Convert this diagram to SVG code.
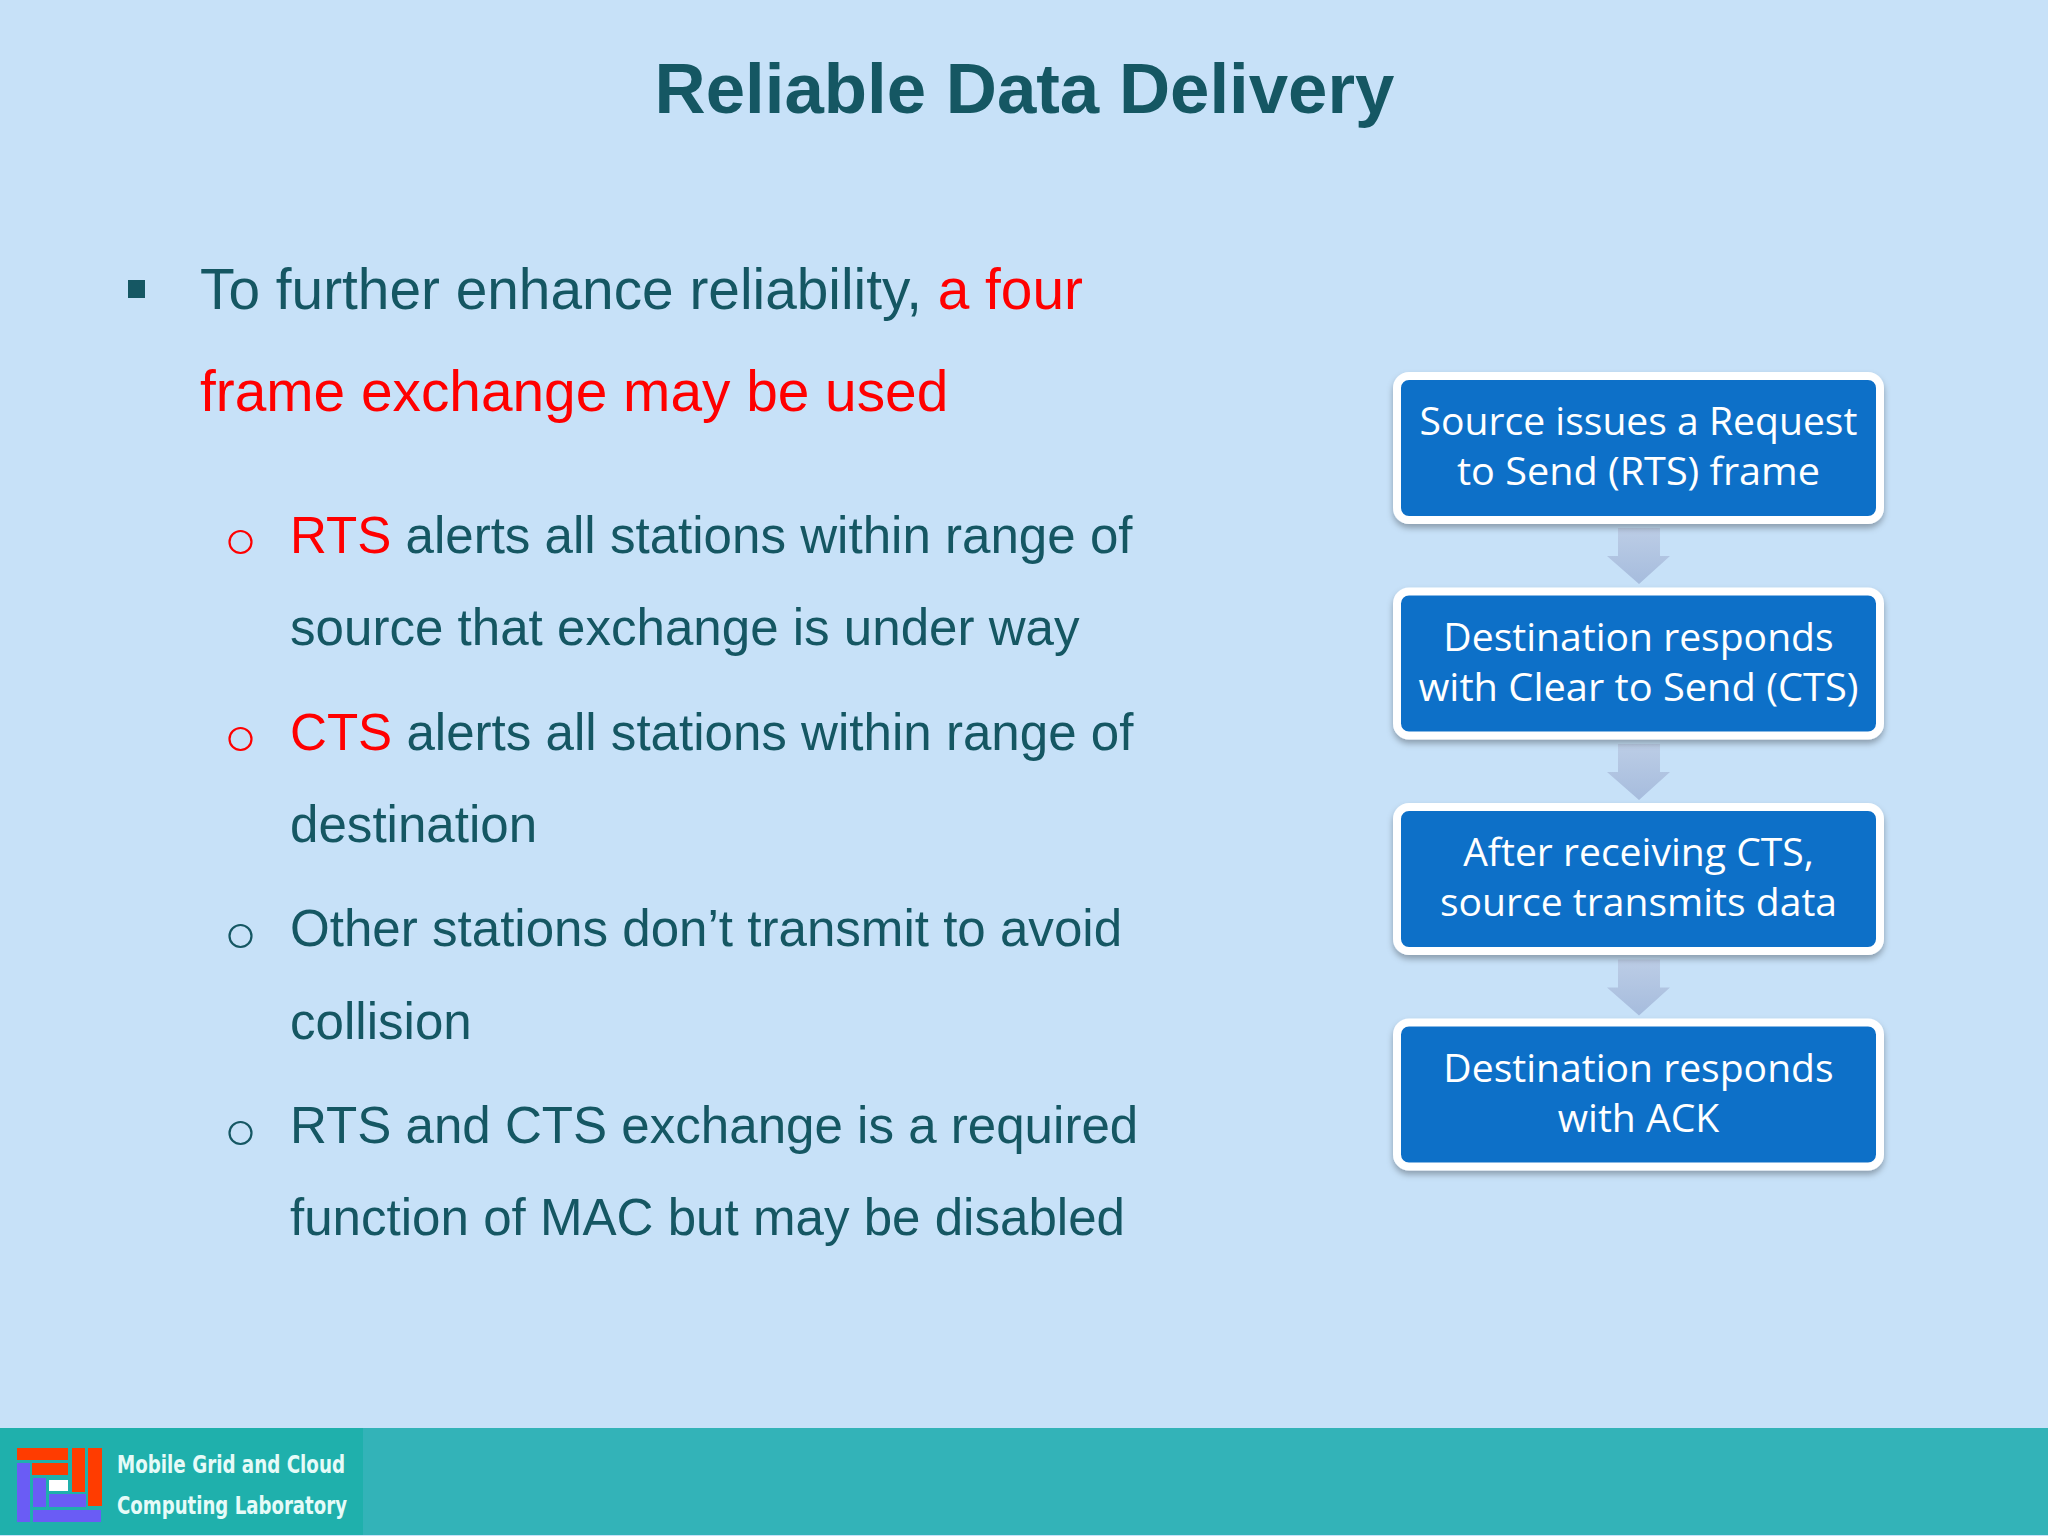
<svg xmlns="http://www.w3.org/2000/svg" width="2048" height="1536" viewBox="0 0 2048 1536">
<defs>
<filter id="sh" x="-5%" y="-10%" width="110%" height="125%"><feDropShadow dx="0" dy="4" stdDeviation="3" flood-color="#000" flood-opacity="0.3"/></filter>
<linearGradient id="ar" x1="0" y1="0" x2="0" y2="1"><stop offset="0" stop-color="#bccde6"/><stop offset="1" stop-color="#a6bcdd"/></linearGradient>
</defs>
<style>
text{font-family:"Liberation Sans",Arial,sans-serif}
.t{font-size:70.800px;font-weight:bold;fill:#155763}
.l1{font-size:56.800px;fill:#155763}
.l2{font-size:51.100px;fill:#155763}
.r{fill:#ff0000}
.b{fill:#1070c8;stroke:#fff;stroke-width:8;filter:url(#sh)}
.n{font-family:"Open Sans","Noto Sans",sans-serif;font-size:39.100px;fill:#fff;text-anchor:middle}
.f{font-family:"DejaVu Sans",sans-serif;font-size:25px;font-weight:bold;fill:#e6fbf8}
.a{fill:url(#ar)}
.lr{fill:#ff3c00}.lb{fill:#6a5cf5}
</style>
<rect width="2048" height="1536" fill="#c7e1f8"/>
<text class="t" x="1024.500" y="112.500" text-anchor="middle">Reliable Data Delivery</text>
<g id="body">
<rect x="128" y="280" width="17" height="18" fill="#155763"/>
<text class="l1" x="200" y="309">To further enhance reliability, <tspan class="r">a four</tspan></text>
<text class="l1 r" x="200" y="411">frame exchange may be used</text>
<circle cx="240.500" cy="542" r="11" fill="none" stroke="#ff0000" stroke-width="2.200"/>
<text class="l2" x="290" y="553"><tspan class="r">RTS</tspan> alerts all stations within range of</text>
<text class="l2" x="290" y="645">source that exchange is under way</text>
<circle cx="240.500" cy="739" r="11" fill="none" stroke="#ff0000" stroke-width="2.200"/>
<text class="l2" x="290" y="750"><tspan class="r">CTS</tspan> alerts all stations within range of</text>
<text class="l2" x="290" y="842">destination</text>
<circle cx="240.500" cy="936" r="11" fill="none" stroke="#155763" stroke-width="2.200"/>
<text class="l2" x="290" y="946">Other stations don’t transmit to avoid</text>
<text class="l2" x="290" y="1039">collision</text>
<circle cx="240.500" cy="1133" r="11" fill="none" stroke="#155763" stroke-width="2.200"/>
<text class="l2" x="290" y="1143">RTS and CTS exchange is a required</text>
<text class="l2" x="290" y="1235">function of MAC but may be disabled</text>
</g>
<g id="connectors">
<path class="a" d="M1618 528H1660V556H1670L1639 584L1607 556H1618Z"/>
<path class="a" d="M1618 744H1660V772H1670L1639 800L1607 772H1618Z"/>
<path class="a" d="M1618 959.500H1660V987.500H1670L1639 1015.500L1607 987.500H1618Z"/>
</g>
<g id="node1"><rect class="b" x="1397" y="376" width="483" height="144" rx="12"/><text class="n" x="1638.500" y="435">Source issues a Request</text><text class="n" x="1638.500" y="485" textLength="363" lengthAdjust="spacingAndGlyphs">to Send (RTS) frame</text></g>
<g id="node2"><rect class="b" x="1397" y="591.500" width="483" height="144" rx="12"/><text class="n" x="1638.500" y="650.500">Destination responds</text><text class="n" x="1638.500" y="700.500" textLength="440" lengthAdjust="spacingAndGlyphs">with Clear to Send (CTS)</text></g>
<g id="node3"><rect class="b" x="1397" y="807" width="483" height="144" rx="12"/><text class="n" x="1638.500" y="866">After receiving CTS,</text><text class="n" x="1638.500" y="916">source transmits data</text></g>
<g id="node4"><rect class="b" x="1397" y="1022.500" width="483" height="144" rx="12"/><text class="n" x="1638.500" y="1081.500">Destination responds</text><text class="n" x="1638.500" y="1131.500">with ACK</text></g>
<g id="footer">
<rect x="0" y="1428" width="2048" height="107" fill="#33b3b8"/>
<rect x="0" y="1428" width="363" height="107" fill="#1fb0ac"/>
<rect class="lr" x="17" y="1448" width="51" height="12"/>
<rect class="lr" x="32" y="1463" width="36" height="12"/>
<rect class="lr" x="72" y="1448" width="13" height="44"/>
<rect class="lr" x="88" y="1448" width="14" height="58"/>
<rect class="lb" x="17" y="1463" width="13" height="59"/>
<rect class="lb" x="33" y="1478" width="13" height="29"/>
<rect class="lb" x="49" y="1494" width="37" height="13"/>
<rect class="lb" x="33" y="1510" width="68" height="12"/>
<rect x="49" y="1480" width="19" height="11" fill="#fff"/>
<text class="f" x="117" y="1473" textLength="228" lengthAdjust="spacingAndGlyphs">Mobile Grid and Cloud</text>
<text class="f" x="117" y="1514" textLength="230" lengthAdjust="spacingAndGlyphs">Computing Laboratory</text>
</g>
</svg>
